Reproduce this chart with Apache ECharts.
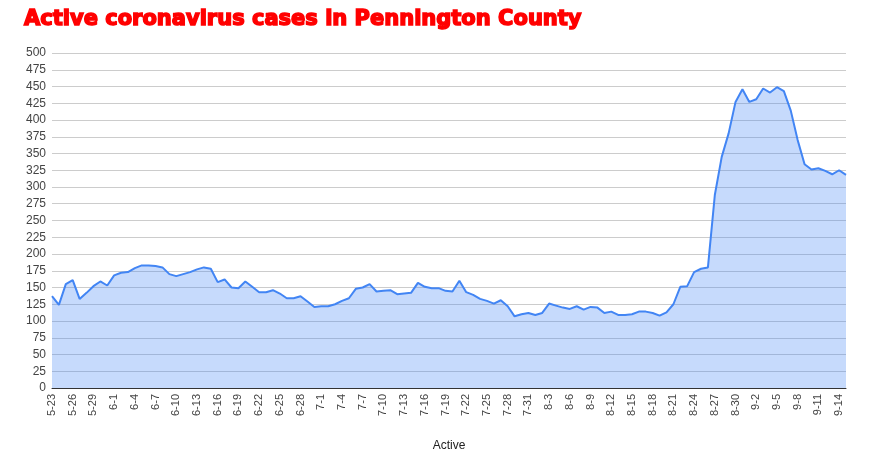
<!DOCTYPE html>
<html>
<head>
<meta charset="utf-8">
<title>Active coronavirus cases</title>
<script src="https://cdn.jsdelivr.net/npm/echarts@6/dist/echarts.min.js"></script>
<style>
  html, body { margin: 0; padding: 0; background: #fff; }
  #chart { width: 870px; height: 457px; }
</style>
</head>
<body>
<div id="chart"></div>
<script>
// one point per day, 5-23 .. 9-15
var startMonth = 5, startDay = 23;
var active = [
  137, 124, 155, 161, 133, 142, 152, 159, 153, 168,
  172, 173, 179, 183, 183, 182, 180, 170, 167, 170,
  173, 177, 180, 178, 158, 162, 150, 149, 159, 151,
  143, 143, 146, 141, 134, 134, 137, 129, 121, 122,
  122, 125, 130, 134, 148, 150, 155, 144, 145, 146,
  140, 141, 142, 157, 151, 149, 149, 145, 144, 160,
  143, 139, 133, 130, 126, 131, 122, 107, 110, 112,
  109, 112, 126, 123, 120, 118, 122, 117, 121, 120,
  112, 114, 109, 109, 110, 114, 114, 112, 108, 113,
  125, 151, 152, 173, 178, 180, 288, 345, 380, 427,
  446, 427, 431, 447, 441, 449, 443, 414, 370, 334,
  326, 328, 324, 319, 325, 318
];
var daysInMonth = { 5: 31, 6: 30, 7: 31, 8: 31, 9: 30 };

var dates = [];
var m = startMonth, d = startDay;
for (var i = 0; i < active.length; i++) {
  dates.push(m + '-' + d);
  d++;
  if (d > daysInMonth[m]) { d = 1; m++; }
}

var myChart = echarts.init(document.getElementById('chart'));
var option = {
  animation: false,
  title: {
    text: 'Active coronavirus cases in Pennington County',
    left: 19,
    top: 4,
    textStyle: {
      fontFamily: 'DejaVu Sans',
      fontWeight: 'bold',
      fontSize: 21,
      color: '#ff0000',
      textBorderColor: '#ff0000',
      textBorderWidth: 1.5
    }
  },
  grid: { left: 52, right: 24, top: 53, bottom: 68 },
  xAxis: {
    type: 'category',
    data: dates,
    boundaryGap: false,
    name: 'Active',
    nameLocation: 'middle',
    nameGap: 52,
    nameTextStyle: { fontFamily: 'Liberation Sans', fontSize: 12, color: '#222' },
    axisLine: { lineStyle: { color: '#333', width: 1 } },
    axisTick: { show: false },
    axisLabel: {
      interval: 2,
      rotate: 90,
      margin: 6,
      fontFamily: 'Liberation Sans',
      fontSize: 11,
      color: '#444'
    },
    splitLine: { show: false }
  },
  yAxis: {
    type: 'value',
    min: 0,
    max: 500,
    interval: 25,
    axisLine: { show: false },
    axisTick: { show: false },
    axisLabel: { margin: 6, fontFamily: 'Liberation Sans', fontSize: 12, color: '#444' },
    splitLine: { lineStyle: { color: '#cccccc', width: 1 } }
  },
  series: [{
    type: 'line',
    data: active,
    symbol: 'none',
    lineStyle: { color: '#4285f4', width: 2 },
    itemStyle: { color: '#4285f4' },
    areaStyle: { color: '#4285f4', opacity: 0.3 }
  }]
};
myChart.setOption(option);
</script>
</body>
</html>
